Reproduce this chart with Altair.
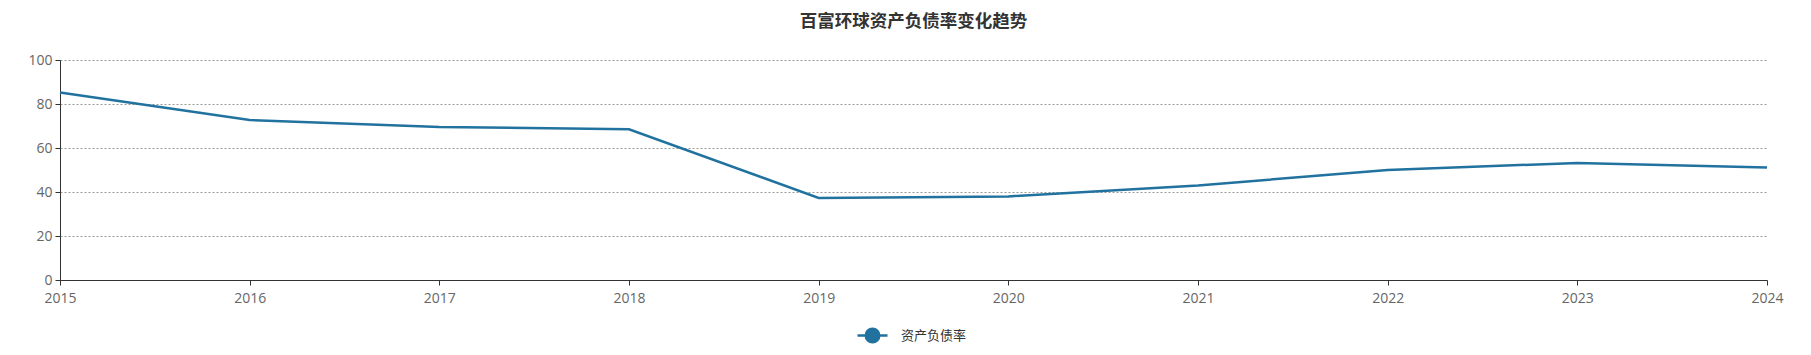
import altair as alt
import pandas as pd

years = [2015, 2016, 2017, 2018, 2019, 2020, 2021, 2022, 2023, 2024]
debt_ratio = [85.2, 72.7, 69.6, 68.5, 37.3, 38.0, 43.0, 50.0, 53.2, 51.1]
series_name = "资产负债率"
title_text = "百富环球资产负债率变化趋势"
y_ticks = [0, 20, 40, 60, 80, 100]

df = pd.DataFrame({"year": years, "value": debt_ratio, "series": [series_name] * len(years)})

blue = "#21729f"
legend_path = ("M-1,0L-0.45,0M0.45,0L1,0"
               "M0.45,0A0.45,0.45,0,1,1,-0.45,0A0.45,0.45,0,1,1,0.45,0Z")

chart = alt.Chart(df).mark_line(strokeWidth=2.5).encode(
    x=alt.X("year:Q",
            scale=alt.Scale(domain=[2015, 2024], nice=False, zero=False),
            axis=alt.Axis(title=None, values=years, format="d", labelFlush=False,
                          labelOverlap=False, grid=False, domainColor="#333333",
                          tickColor="#333333", tickSize=5, labelFontSize=14,
                          labelColor="#666666", labelPadding=6, labelFont="Open Sans")),
    y=alt.Y("value:Q",
            scale=alt.Scale(domain=[0, 100], nice=False),
            axis=alt.Axis(title=None, values=y_ticks, grid=True, gridDash=[2, 2],
                          gridColor="#999999", domainColor="#333333", tickColor="#333333",
                          tickSize=5, labelFontSize=14, labelColor="#666666",
                          labelPadding=3, labelFont="Open Sans")),
    color=alt.Color("series:N",
                    scale=alt.Scale(domain=[series_name], range=[blue]),
                    legend=alt.Legend(title=None, orient="none", legendX=796, legendY=259,
                                      symbolType=legend_path, symbolSize=900,
                                      symbolFillColor=blue, symbolStrokeColor=blue,
                                      symbolStrokeWidth=2.5, labelFontSize=13,
                                      labelColor="#333333", labelOffset=12,
                                      labelFont="Noto Sans CJK SC")),
).properties(
    width=1707,
    height=220,
    background="white",
    autosize=alt.AutoSizeParams(type="none"),
    padding={"left": 52, "top": 52, "right": 36, "bottom": 67},
    title=alt.TitleParams(title_text, fontSize=17.5, fontWeight="bold", color="#333333",
                          anchor="middle", offset=23, font="Noto Sans CJK SC"),
).configure_view(strokeWidth=0, stroke="transparent")

chart.save("out.html", embed_options={"renderer": "svg", "actions": False})
